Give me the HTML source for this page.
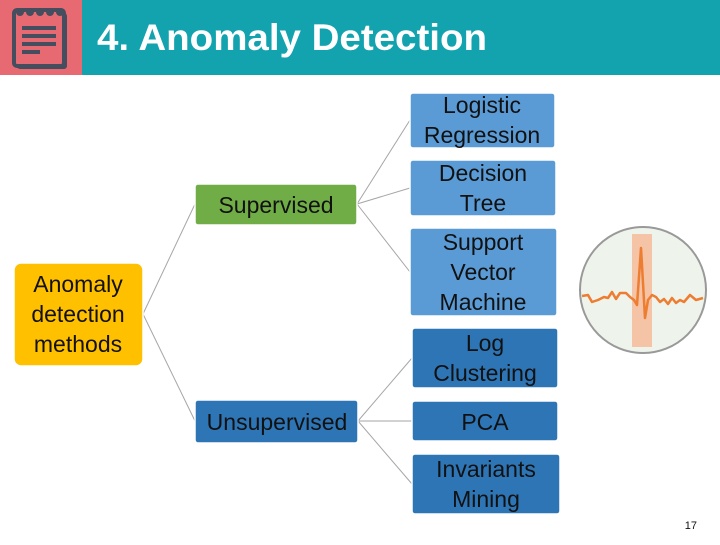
<!DOCTYPE html>
<html><head><style>body{margin:0;width:720px;height:540px;background:#fff;overflow:hidden}</style></head><body>
<svg width="720" height="540" xmlns="http://www.w3.org/2000/svg" font-family="Liberation Sans, DejaVu Sans, sans-serif">
<rect x="0" y="0" width="82" height="75" fill="#E76A73"/>
<rect x="82" y="0" width="638" height="75" fill="#13A3AF"/>
<rect x="17" y="13" width="50" height="56" rx="3" fill="#444E5E"/>
<rect x="14" y="10" width="50" height="56" rx="3" fill="#E76A73" stroke="#444E5E" stroke-width="4"/>
<g fill="#444E5E"><circle cx="20" cy="12" r="4"/><circle cx="30" cy="12" r="4"/><circle cx="40" cy="12" r="4"/><circle cx="50" cy="12" r="4"/><circle cx="60" cy="12" r="4"/>
<rect x="22" y="26" width="34" height="4"/><rect x="22" y="34" width="34" height="4"/><rect x="22" y="42" width="34" height="4"/><rect x="22" y="50" width="18" height="4"/></g>
<text x="97" y="50" font-size="37" font-weight="bold" fill="#fff" textLength="390" lengthAdjust="spacingAndGlyphs">4. Anomaly Detection</text>
<g stroke="#A6A6A6" stroke-width="1" fill="none">
<path d="M143 314 L195 204"/><path d="M143 314 L195 421"/>
<path d="M357 204 L410 120"/><path d="M357 204 L410 188"/><path d="M357 204 L410 272"/>
<path d="M358 421 L412 358"/><path d="M358 421 L412 421"/><path d="M358 421 L412 484"/>
</g>
<g stroke="#fff" stroke-width="1.5">
<rect x="14" y="263" width="129" height="103" rx="7" fill="#FFC000"/>
<rect x="195" y="184" width="162" height="41" rx="3" fill="#70AD47"/>
<rect x="195" y="400" width="163" height="43" rx="3" fill="#2E75B6"/>
<rect x="410" y="93" width="145" height="55" rx="3" fill="#5B9BD5"/>
<rect x="410" y="160" width="146" height="56" rx="3" fill="#5B9BD5"/>
<rect x="410" y="228" width="147" height="88" rx="3" fill="#5B9BD5"/>
<rect x="412" y="328" width="146" height="60" rx="3" fill="#2E75B6"/>
<rect x="412" y="401" width="146" height="40" rx="3" fill="#2E75B6"/>
<rect x="412" y="454" width="148" height="60" rx="3" fill="#2E75B6"/>
</g>
<g font-size="23" text-anchor="middle" fill="#111">
<text x="78" y="292">Anomaly</text><text x="78" y="322">detection</text><text x="78" y="352">methods</text>
<text x="276" y="213">Supervised</text>
<text x="277" y="430">Unsupervised</text>
<text x="482" y="113">Logistic</text><text x="482" y="143">Regression</text>
<text x="483" y="181">Decision</text><text x="483" y="211">Tree</text>
<text x="483" y="250">Support</text><text x="483" y="280">Vector</text><text x="483" y="310">Machine</text>
<text x="485" y="351">Log</text><text x="485" y="381">Clustering</text>
<text x="485" y="430">PCA</text>
<text x="486" y="477">Invariants</text><text x="486" y="507">Mining</text>
</g>
<circle cx="643" cy="290" r="63" fill="#EEF4EC" stroke="#999" stroke-width="2"/>
<rect x="632" y="234" width="20" height="113" fill="#F5C3A5"/>
<polyline points="582,296 588,295 592,302 598,300 604,297 608,298 612,292 616,299 620,293 626,293 630,297 634,300 637,305 641,248 645,318 648,300 652,295 656,297 660,302 664,299 668,304 672,298 676,303 680,300 684,302 690,295 696,300 703,298" fill="none" stroke="#ED7D31" stroke-width="2.5" stroke-linejoin="round"/>
<text x="697" y="529" font-size="11" text-anchor="end" fill="#111">17</text>
</svg>
</body></html>
